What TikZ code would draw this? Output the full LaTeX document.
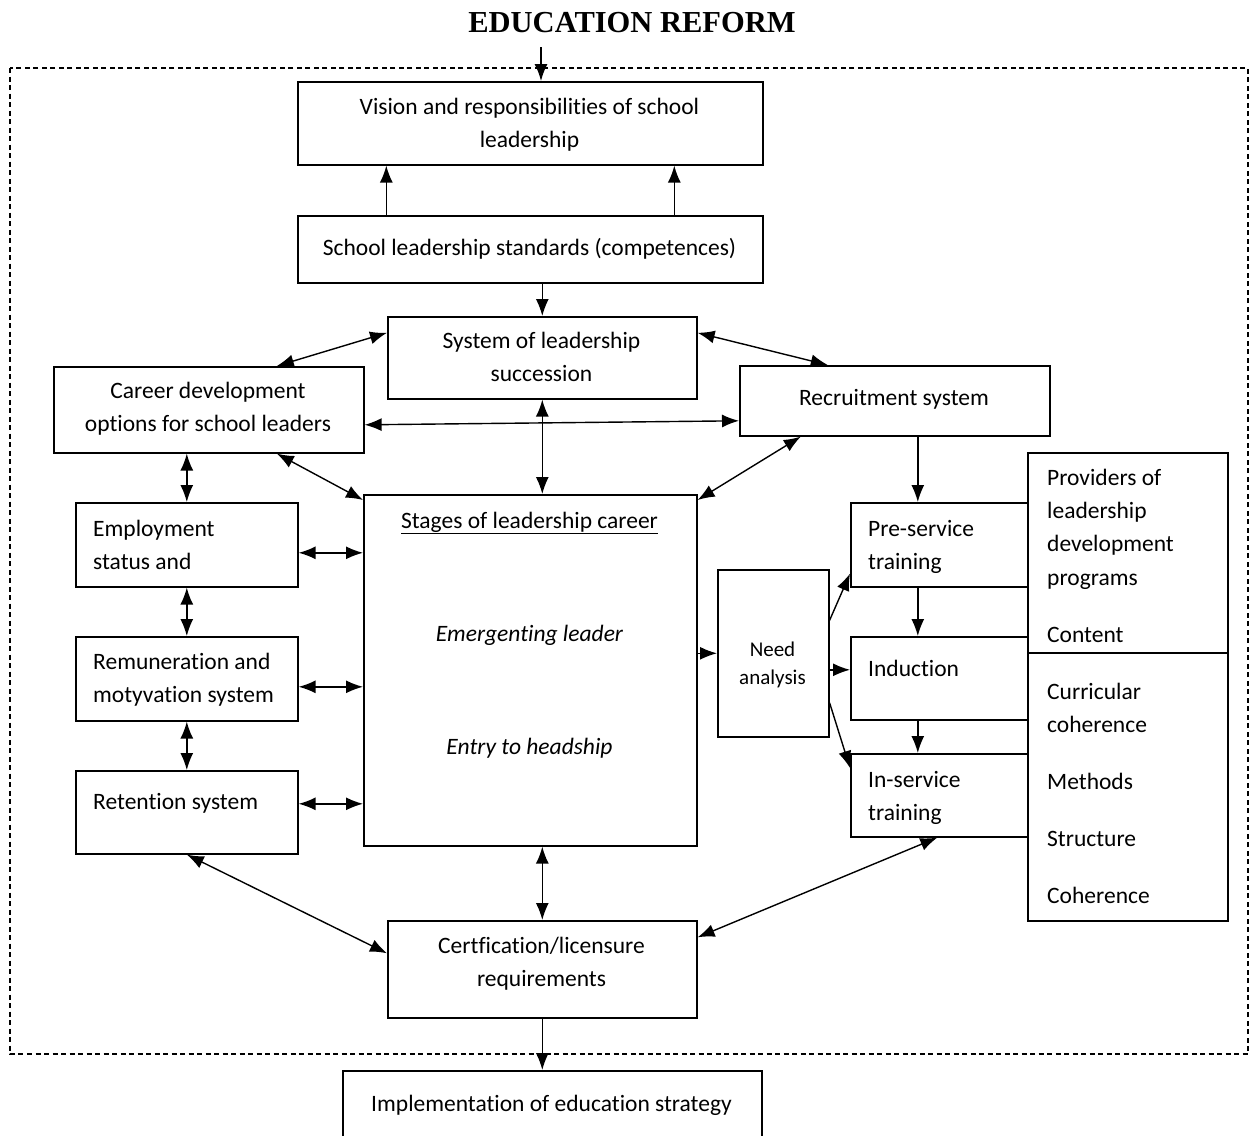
\documentclass[tikz,border=0pt]{standalone}
\usepackage{fontspec}
\setmainfont{Carlito}[Ligatures=CommonOff]
\newfontfamily\titlefont{Liberation Serif}
\usetikzlibrary{arrows.meta}

\newcommand{\mainsize}{\fontsize{23.5}{33.3}\selectfont}
\newcommand{\needsize}{\fontsize{21}{28}\selectfont}

\begin{document}
\begin{tikzpicture}[x=1pt, y=-1pt,
  box/.style={draw, line width=1.6pt, inner sep=0pt, anchor=north west},
  txt/.style={inner sep=0pt, anchor=north, align=center, font=\mainsize, execute at begin node=\strut},
  ltxt/.style={txt, anchor=north west, align=left},
  tip/.tip={Latex[length=17pt,width=13pt]},
  link/.style={tip-tip, line width=1.4pt},
  flow/.style={-tip, line width=1.4pt}]
  \useasboundingbox (0,0) rectangle (1250,1135);
  \clip (0,0) rectangle (1250,1135);
  \node[font=\titlefont\bfseries\fontsize{30.5}{36}\selectfont, anchor=base] (title) at (632,32) {EDUCATION REFORM};
  \draw[dash pattern=on 5pt off 3.5pt, line width=1.3pt] (10,68) rectangle (1248,1054);

  % boxes
  \node[box, minimum width=465pt, minimum height=83pt] (vision) at (297,81) {};
  \node[box, minimum width=465pt, minimum height=67pt] (standards) at (297,215) {};
  \node[box, minimum width=309pt, minimum height=82pt] (succession) at (387,316) {};
  \node[box, minimum width=310pt, minimum height=86pt] (career) at (53,366) {};
  \node[box, minimum width=310pt, minimum height=70pt] (recruit) at (739,365) {};
  \node[box, minimum width=333pt, minimum height=351pt] (stages) at (363,494) {};
  \node[box, minimum width=222pt, minimum height=84pt] (employ) at (75,502) {};
  \node[box, minimum width=222pt, minimum height=84pt] (remun) at (75,636) {};
  \node[box, minimum width=222pt, minimum height=83pt] (retain) at (75,770) {};
  \node[box, minimum width=111pt, minimum height=167pt] (need) at (717,569) {};
  \node[box, minimum width=177pt, minimum height=84pt] (preserv) at (850,502) {};
  \node[box, minimum width=177pt, minimum height=83pt] (induct) at (850,636) {};
  \node[box, minimum width=177pt, minimum height=83pt] (inserv) at (850,753) {};
  \node[box, minimum width=200pt, minimum height=200pt] (providers) at (1027,452) {};
  \node[box, minimum width=200pt, minimum height=268pt] (criteria) at (1027,652) {};
  \node[box, minimum width=309pt, minimum height=97pt] (cert) at (387,920) {};
  \node[box, minimum width=419pt, minimum height=80pt] (impl) at (342,1070) {};

  % texts
  \node[txt] (vision-t) at (529.5,97.7) {Vision and responsibilities of school\\leadership};
  \node[txt] (standards-t) at (529.5,231.7) {School leadership standards (competences)};
  \node[txt] (succession-t) at (541.5,331.7) {System of leadership\\succession};
  \node[txt] (career-t) at (208,381.7) {Career development\\options for school leaders};
  \node[txt] (recruit-t) at (894,381.7) {Recruitment system};
  \node[txt] (stages-t) at (529.5,511.7) {\underline{Stages of leadership career}\\[80pt]\itshape Emergenting leader\\[80pt]\itshape Entry to headship};
  \node[ltxt] (employ-t) at (93,519.7) {Employment\\status and};
  \node[ltxt] (remun-t) at (93,652.7) {Remuneration and\\motyvation system};
  \node[ltxt] (retain-t) at (93,785.7) {Retention system};
  \node[txt, font=\needsize] (need-t) at (772.5,641.4) {Need\\analysis};
  \node[ltxt] (preserv-t) at (868,519.7) {Pre-service\\training};
  \node[ltxt] (induct-t) at (868,652.7) {Induction};
  \node[ltxt] (inserv-t) at (868,770.7) {In-service\\training};
  \node[ltxt] (providers-t) at (1047,468.7) {Providers of\\leadership\\development\\programs\\[23.7pt]Content};
  \node[ltxt] (criteria-t) at (1047,682.7) {Curricular\\coherence\\[23.7pt]Methods\\[23.7pt]Structure\\[23.7pt]Coherence};
  \node[txt] (cert-t) at (541.5,936.7) {Certfication/licensure\\requirements};
  \node[txt] (impl-t) at (551.5,1087.7) {Implementation of education strategy};

  % connectors
  \coordinate (reform-in) at (541,47);
  \draw[flow] (reform-in) -- (reform-in |- vision.north);
  \draw[flow] ([xshift=-144pt]standards.north) -- ([xshift=-144pt]vision.south);
  \draw[flow] ([xshift=144pt]standards.north) -- ([xshift=144pt]vision.south);
  \draw[flow] (standards.south -| succession.north) -- (succession.north);
  \draw[link] ([xshift=68pt]career.north) -- ([yshift=25pt]succession.west);
  \draw[link] ([yshift=-15pt]career.east) -- ([yshift=-20pt]recruit.west);
  \draw[link] ([yshift=25pt]succession.east) -- ([xshift=-67pt]recruit.north);
  \draw[link] (succession.south) -- (succession.south |- stages.north);
  \draw[link] ([xshift=68pt]career.south) -- ([yshift=-6pt]stages.north west);
  \draw[link] ([xshift=-94pt]recruit.south) -- ([yshift=-6pt]stages.north east);
  \draw[link] (career.south -| employ.north) -- (employ.north);
  \draw[link] (employ.south) -- (remun.north);
  \draw[link] (remun.south) -- (retain.north);
  \draw[link] ([yshift=-8pt]employ.east) -- ([yshift=-8pt]employ.east -| stages.west);
  \draw[link] ([yshift=-8pt]remun.east) -- ([yshift=-8pt]remun.east -| stages.west);
  \draw[link] ([yshift=8.5pt]retain.east) -- ([yshift=8.5pt]retain.east -| stages.west);
  \draw[flow] (need.west -| stages.east) -- (need.west);
  \draw[flow] ([yshift=33pt]need.east) -- ([yshift=14pt]preserv.south west);
  \draw[flow] ([yshift=-16.5pt]need.east) -- ([yshift=-16.5pt]need.east -| induct.west);
  \draw[flow] ([yshift=-49.5pt]need.east) -- ([yshift=-15pt]inserv.north west);
  \coordinate (ps-in) at ([xshift=-21.5pt]preserv.north);
  \draw[flow] (ps-in |- recruit.south) -- (ps-in);
  \draw[flow] (ps-in |- preserv.south) -- (ps-in |- induct.north);
  \draw[flow] (ps-in |- induct.south) -- (ps-in |- inserv.north);
  \draw[link] (retain.south) -- ([yshift=16pt]cert.west);
  \draw[link] (stages.south -| cert.north) -- (cert.north);
  \draw[link] ([xshift=-2pt]inserv.south) -- ([yshift=32pt]cert.east);
  \draw[flow] (cert.south) -- (cert.south |- impl.north);
\end{tikzpicture}
\end{document}
